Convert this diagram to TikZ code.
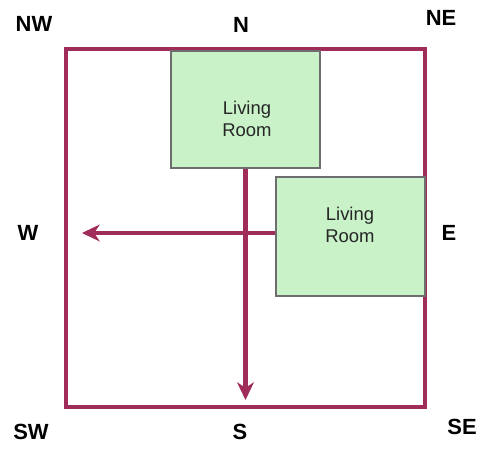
\documentclass[tikz,border=0pt]{standalone}
\usepackage{fontspec}
\setmainfont{Liberation Sans}
\usetikzlibrary{arrows.meta}
\definecolor{wallred}{HTML}{A02C5A}
\definecolor{roomgreen}{HTML}{C9F2C9}
\definecolor{roomgray}{HTML}{6E6E6E}

\begin{document}
\begin{tikzpicture}[x=0.02cm, y=-0.02cm,
	room/.style={draw=roomgray, line width=0.8pt, fill=roomgreen, inner sep=0pt},
	roomtext/.style={align=center, text=black!85, font=\fontsize{10.5}{12.5}\selectfont},
	compass/.style={font=\bfseries\fontsize{12.5}{14}\selectfont},
	flow/.style={wallred, line width=2.3pt, -{Stealth[length=10pt, width=9.5pt, inset=3pt]}}]
	\useasboundingbox (0,0) rectangle (500,452);
	\draw [wallred, line width=1.8pt] (66,49) rectangle (425,407);

	\node [room, minimum width=149*0.02cm, minimum height=117*0.02cm] (R1) at (245.5,109.5) {};
	\node [room, minimum width=149*0.02cm, minimum height=119*0.02cm] (R2) at (350.5,236.5) {};
	\node [roomtext] (R1txt) at (247,119) {Living\\Room};
	\node [roomtext] (R2txt) at (350,225) {Living\\Room};

	\coordinate (toS) at (245.5,400);
	\coordinate (toW) at (82,233);
	\draw [flow] (R1.south) -- (toS);
	\draw [flow] (R2.west |- toW) -- (toW);

	\node [compass] (NW) at (34,24) {NW};
	\node [compass] (N) at (241,25) {N};
	\node [compass] (NE) at (441,18) {NE};
	\node [compass] (W) at (28,233) {W};
	\node [compass] (E) at (449,233) {E};
	\node [compass] (SW) at (31,432) {SW};
	\node [compass] (S) at (240,432) {S};
	\node [compass] (SE) at (462,427) {SE};
\end{tikzpicture}
\end{document}
